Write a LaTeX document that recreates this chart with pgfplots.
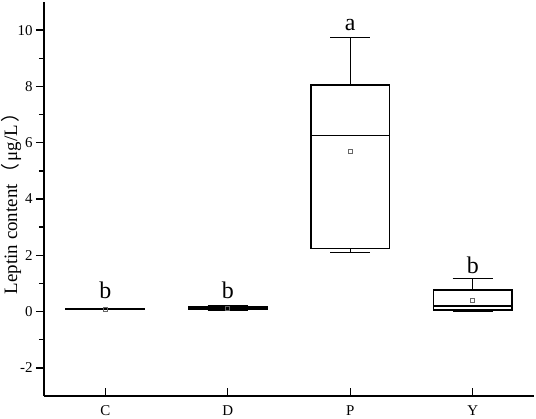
\documentclass[border=0pt]{standalone}
\usepackage{fontspec}
\setmainfont{Liberation Serif}
\newfontfamily\cjk{Noto Sans CJK SC}
\usepackage{pgfplots}
\pgfplotsset{compat=1.18}
\usepgfplotslibrary{statistics}

\begin{document}
\begin{tikzpicture}
\begin{axis}[
    name=ax,
    scale only axis,
    width=490bp, height=394bp,
    xmin=-0.5, xmax=3.5,
    ymin=-3, ymax=11,
    boxplot/draw direction=y,
    axis x line*=bottom,
    axis y line*=left,
    axis line style={line width=1.6pt, -},
    xtick={0,1,2,3},
    xticklabels={C,D,P,Y},
    ytick={-2,0,2,4,6,8,10},
    minor y tick num=1,
    xtick align=inside,
    ytick align=outside,
    major tick length=8bp,
    minor tick length=5bp,
    every tick/.style={black, line width=1.3pt},
    tick label style={font=\fontsize{15}{18}\selectfont},
    x tick label style={yshift=-6bp},
    /pgf/number format/assume math mode=true,
    ylabel={Leptin content\hspace{2bp}{\cjk （}\hspace{2bp}μg/L\hspace{2bp}{\cjk ）}},
    ylabel style={font=\fontsize{19}{22}\selectfont,
        at={(axis description cs:0,0.5)}, anchor=center, yshift=33bp},
    clip=false,
]
% C
\addplot[black, solid, line width=1.4pt, boxplot prepared={draw position=0,
    lower whisker=0.07, lower quartile=0.08, median=0.09,
    upper quartile=0.10, upper whisker=0.11,
    box extend=0.64, whisker extend=0.33}] coordinates {};
% D
\addplot[black, solid, line width=1.4pt, boxplot prepared={draw position=1,
    lower whisker=0.03, lower quartile=0.08, median=0.13,
    upper quartile=0.16, upper whisker=0.21,
    box extend=0.64, whisker extend=0.33}] coordinates {};
% P
\addplot[black, solid, line width=1.4pt, boxplot prepared={draw position=2,
    lower whisker=2.09, lower quartile=2.25, median=6.25,
    upper quartile=8.05, upper whisker=9.73,
    box extend=0.64, whisker extend=0.33}] coordinates {};
% Y
\addplot[black, solid, line width=1.4pt, boxplot prepared={draw position=3,
    lower whisker=0.02, lower quartile=0.06, median=0.2,
    upper quartile=0.77, upper whisker=1.18,
    box extend=0.64, whisker extend=0.33}] coordinates {};
% means
\addplot[only marks, mark=square, mark size=2bp, draw=gray!80!black, line width=0.6pt]
    coordinates {(0,0.09) (1,0.13) (2,5.68) (3,0.41)};
% letters
\node[font=\fontsize{24}{28}\selectfont] at (axis cs:0,0.75) {b};
\node[font=\fontsize{24}{28}\selectfont] at (axis cs:1,0.75) {b};
\node[font=\fontsize{24}{28}\selectfont] at (axis cs:2,10.2) {a};
\node[font=\fontsize{24}{28}\selectfont] at (axis cs:3,1.66) {b};
\end{axis}
\pgfresetboundingbox
\path ([xshift=-44bp,yshift=-23bp]ax.south west) rectangle ([xshift=2bp,yshift=2bp]ax.north east);
\end{tikzpicture}
\end{document}
